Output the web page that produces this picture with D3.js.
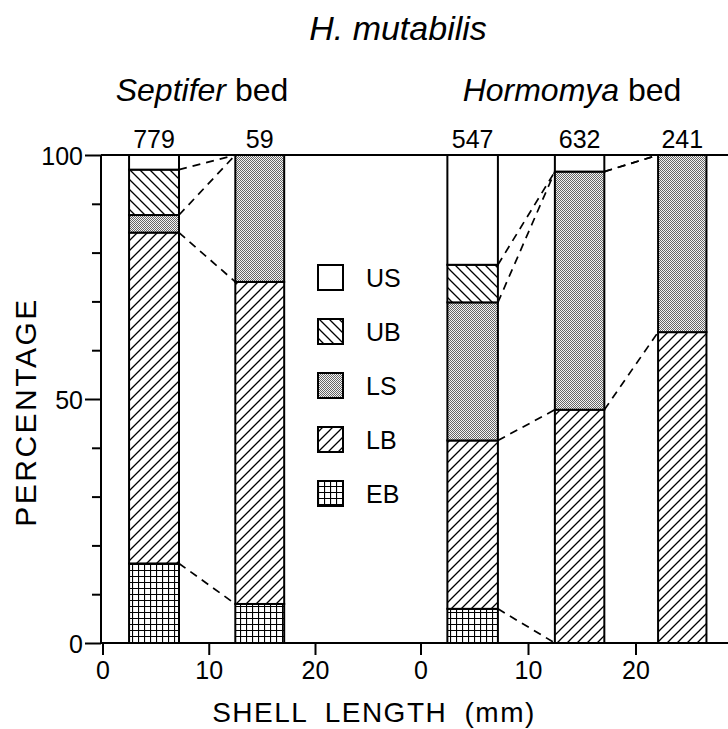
<!DOCTYPE html>
<html><head><meta charset="utf-8">
<script src="https://cdn.jsdelivr.net/npm/d3@7"></script>
<style>
html,body{margin:0;padding:0;background:#fff;}
text{font-family:"Liberation Sans",Arial,Helvetica,sans-serif;fill:#000;}
</style></head>
<body>
<svg id="chart" width="728" height="729"></svg>
<script>
// ---- data ----
const title = "H. mutabilis";
const categories = ["US","UB","LS","LB","EB"];          // legend order (top to bottom)
const stackOrder = ["EB","LB","LS","UB","US"];          // stacking order (bottom to top)
const beds = ["Septifer","Hormomya"];
const xTicks = [0,10,20];
const yTicks = [0,10,20,30,40,50,60,70,80,90,100];
const yLabelTicks = [0,50,100];

// size classes (mm)
const septiferStart = [2.5,12.5];
const septiferEnd   = [7.2,17.1];
const septiferN     = [779,59];
const septiferUS = [3.0,0];
const septiferUB = [9.3,0];
const septiferLS = [3.6,26.0];
const septiferLB = [67.8,66.0];
const septiferEB = [16.3,8.0];

const hormomyaStart = [2.5,12.5,22.1];
const hormomyaEnd   = [7.2,17.1,26.6];
const hormomyaN     = [547,632,241];
const hormomyaUS = [22.5,3.4,0];
const hormomyaUB = [7.7,0,0];
const hormomyaLS = [28.3,48.8,36.3];
const hormomyaLB = [34.5,47.8,63.7];
const hormomyaEB = [7.0,0,0];

function rows(start,end,n,US,UB,LS,LB,EB){
  return start.map((s,i)=>({x0:s,x1:end[i],n:n[i],US:US[i],UB:UB[i],LS:LS[i],LB:LB[i],EB:EB[i]}));
}
const septiferData = rows(septiferStart,septiferEnd,septiferN,septiferUS,septiferUB,septiferLS,septiferLB,septiferEB);
const hormomyaData = rows(hormomyaStart,hormomyaEnd,hormomyaN,hormomyaUS,hormomyaUB,hormomyaLS,hormomyaLB,hormomyaEB);

// ---- layout ----
const svg = d3.select("#chart");
const yTop = 155, yBot = 643, axisX = 101;
const y = d3.scaleLinear().domain([0,100]).range([yBot,yTop]);
const xS = d3.scaleLinear().domain([0,20]).range([102.5,315]);
const xH = d3.scaleLinear().domain([0,20]).range([420.5,635.5]);

// ---- patterns ----
const defs = svg.append("defs");
const pUB = defs.append("pattern").attr("id","pUB").attr("patternUnits","userSpaceOnUse").attr("width",10).attr("height",10);
pUB.append("rect").attr("width",10).attr("height",10).attr("fill","#fff");
pUB.append("path").attr("d","M-2,-2L12,12M-2,8L2,12M8,-2L12,2").attr("stroke","#000").attr("stroke-width",1.3);
const pLB = defs.append("pattern").attr("id","pLB").attr("patternUnits","userSpaceOnUse").attr("width",10).attr("height",10);
pLB.append("rect").attr("width",10).attr("height",10).attr("fill","#fff");
pLB.append("path").attr("d","M-2,12L12,-2M-2,2L2,-2M8,12L12,8").attr("stroke","#000").attr("stroke-width",1.3);
const pLS = defs.append("pattern").attr("id","pLS").attr("patternUnits","userSpaceOnUse").attr("width",2).attr("height",2);
pLS.append("rect").attr("width",2).attr("height",2).attr("fill","#f4f4f4");
pLS.append("rect").attr("width",1).attr("height",1).attr("fill","#666");
pLS.append("rect").attr("x",1).attr("y",1).attr("width",1).attr("height",1).attr("fill","#666");
const pEB = defs.append("pattern").attr("id","pEB").attr("patternUnits","userSpaceOnUse").attr("width",6).attr("height",6);
pEB.append("rect").attr("width",6).attr("height",6).attr("fill","#fff");
pEB.append("path").attr("d","M0,0.5H6M0.5,0V6").attr("stroke","#000").attr("stroke-width",1.2);
const fills = {US:"#fff",UB:"url(#pUB)",LS:"url(#pLS)",LB:"url(#pLB)",EB:"url(#pEB)"};

// ---- bars ----
const stack = d3.stack().keys(stackOrder);
function drawBed(data, x){
  const series = stack(data);
  const g = svg.append("g");
  series.forEach(s=>{
    g.selectAll(null).data(s.filter(d=>d[1]-d[0]>0)).join("rect")
      .attr("x",d=>x(d.data.x0)).attr("width",d=>x(d.data.x1)-x(d.data.x0))
      .attr("y",d=>y(d[1])).attr("height",d=>y(d[0])-y(d[1]))
      .attr("fill",fills[s.key]).attr("stroke","#000").attr("stroke-width",2);
  });
  // dashed connectors between consecutive bars at each boundary
  for(let i=0;i<data.length-1;i++){
    for(let k=0;k<series.length-1;k++){
      const a = series[k][i][1], b = series[k][i+1][1];
      if((a>=99.9&&b>=99.9)||(a<=0.1&&b<=0.1)) continue;
      g.append("line")
        .attr("x1",x(data[i].x1)).attr("y1",y(a))
        .attr("x2",x(data[i+1].x0)).attr("y2",y(b))
        .attr("stroke","#000").attr("stroke-width",1.7).attr("stroke-dasharray","8,6");
    }
  }
  // sample sizes
  g.selectAll(null).data(data).join("text")
    .attr("x",d=>(x(d.x0)+x(d.x1))/2).attr("y",148)
    .attr("text-anchor","middle").attr("font-size",25).text(d=>d.n);
}
drawBed(septiferData,xS);
drawBed(hormomyaData,xH);

// ---- frame & axes ----
svg.append("line").attr("x1",axisX).attr("x2",728).attr("y1",yTop).attr("y2",yTop).attr("stroke","#000").attr("stroke-width",2);
svg.append("line").attr("x1",axisX).attr("x2",728).attr("y1",yBot).attr("y2",yBot).attr("stroke","#000").attr("stroke-width",2);
svg.append("line").attr("x1",axisX).attr("x2",axisX).attr("y1",yTop).attr("y2",yBot).attr("stroke","#000").attr("stroke-width",2);

const yAxis = svg.append("g").attr("transform",`translate(${axisX},0)`)
  .call(d3.axisLeft(y).tickValues(yTicks).tickSize(9).tickFormat(d=>yLabelTicks.includes(d)?d:""));
yAxis.select(".domain").remove();
yAxis.selectAll(".tick line").attr("stroke-width",2).attr("x2",d=>yLabelTicks.includes(d)?-16:-9);
yAxis.selectAll(".tick text").attr("font-size",25).attr("x",-18).attr("dy","0.36em")
  .style("font-family","'Liberation Sans',Arial,sans-serif");

[xS,xH].forEach(x=>{
  const ax = svg.append("g").attr("transform",`translate(0,${yBot})`)
    .call(d3.axisBottom(x).tickValues(xTicks).tickSize(12).tickPadding(6));
  ax.select(".domain").remove();
  ax.selectAll(".tick line").attr("stroke-width",2);
  ax.selectAll(".tick text").attr("font-size",25).style("font-family","'Liberation Sans',Arial,sans-serif");
});

// ---- titles ----
svg.append("text").attr("x",398).attr("y",40).attr("text-anchor","middle")
  .attr("font-size",34).attr("font-style","italic").text(title);
const bedLabel = (xc, name)=>{
  const t = svg.append("text").attr("x",xc).attr("y",101).attr("text-anchor","middle").attr("font-size",32);
  t.append("tspan").attr("font-style","italic").text(name);
  t.append("tspan").text(" bed");
};
bedLabel(202, beds[0]);
bedLabel(572, beds[1]);

svg.append("text").attr("transform","translate(36,412) rotate(-90)").attr("text-anchor","middle")
  .attr("font-size",30).attr("letter-spacing",2.5).text("PERCENTAGE");
svg.append("text").attr("x",374).attr("y",722).attr("text-anchor","middle")
  .attr("font-size",28).attr("letter-spacing",1.5).attr("word-spacing",8).text("SHELL LENGTH (mm)");

// ---- legend ----
const leg = svg.append("g");
categories.forEach((c,i)=>{
  const cy = 278 + i*54;
  leg.append("rect").attr("x",318).attr("y",cy-13).attr("width",25).attr("height",25)
    .attr("fill",fills[c]).attr("stroke","#000").attr("stroke-width",2);
  leg.append("text").attr("x",366).attr("y",cy).attr("dy","0.36em").attr("font-size",25).text(c);
});
</script>
</body></html>
